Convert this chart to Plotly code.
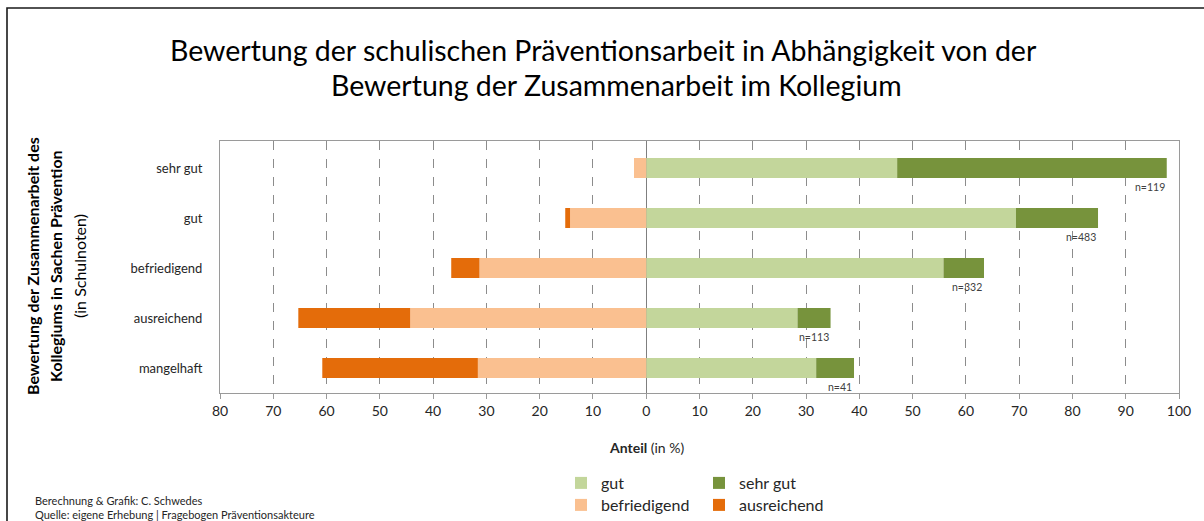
import plotly.graph_objects as go

# Bewertung der Zusammenarbeit im Kollegium (Schulnoten)
categories = ["sehr gut", "gut", "befriedigend", "ausreichend", "mangelhaft"]

# Anteile (in %) der Bewertung der Präventionsarbeit
gut = [47.1, 69.4, 55.8, 28.4, 31.9]
sehr_gut = [50.6, 15.4, 7.6, 6.2, 7.1]
befriedigend = [2.3, 14.3, 31.3, 44.3, 31.6]
ausreichend = [0.0, 0.9, 5.3, 21.0, 29.2]

n_labels = ["n=119", "n=483", "n=332", "n=113", "n=41"]

tick_vals = [-80, -70, -60, -50, -40, -30, -20, -10, 0, 10, 20, 30, 40, 50, 60, 70, 80, 90, 100]
tick_text = ["80", "70", "60", "50", "40", "30", "20", "10", "0", "10", "20", "30", "40", "50", "60", "70", "80", "90", "100"]

FONT = "Lato"
TXT = "#262626"
GRID = "#8c8c8c"

W, H = 1204, 521
ML, MR, MT, MB = 220, 25, 141, 128
PW, PH = W - ML - MR, H - MT - MB


def px_x(px):
    return (px - ML) / PW


def px_y(py):
    return (H - MB - py) / PH


fig = go.Figure()
fig.add_trace(go.Bar(y=categories, x=gut, name="gut", orientation="h",
                     marker=dict(color="#C3D69B", line=dict(width=0)), legend="legend"))
fig.add_trace(go.Bar(y=categories, x=sehr_gut, name="sehr gut", orientation="h",
                     marker=dict(color="#77933C", line=dict(width=0)), legend="legend"))
fig.add_trace(go.Bar(y=categories, x=[-v for v in befriedigend], name="befriedigend", orientation="h",
                     marker=dict(color="#FAC090", line=dict(width=0)), legend="legend2"))
fig.add_trace(go.Bar(y=categories, x=[-v for v in ausreichend], name="ausreichend", orientation="h",
                     marker=dict(color="#E46C0A", line=dict(width=0)), legend="legend2"))

annotations = []
# Stichprobengröße unter dem rechten Balkenende
for cat, g, s, lab in zip(categories, gut, sehr_gut, n_labels):
    annotations.append(dict(x=g + s, y=cat, xref="x", yref="y", text=lab, showarrow=False,
                            xanchor="right", yanchor="middle", yshift=-19,
                            font=dict(family=FONT, size=10.5, color="#404040")))

# Titel
annotations.append(dict(x=px_x(603), y=px_y(50), xref="paper", yref="paper",
                        text="Bewertung der schulischen Präventionsarbeit in Abhängigkeit von der",
                        showarrow=False, xanchor="center", yanchor="middle",
                        font=dict(family=FONT, size=28.5, color="#000000")))
annotations.append(dict(x=px_x(616), y=px_y(85), xref="paper", yref="paper",
                        text="Bewertung der Zusammenarbeit im Kollegium",
                        showarrow=False, xanchor="center", yanchor="middle",
                        font=dict(family=FONT, size=28.5, color="#000000")))

# Achsentitel (vertikal)
for xpx, txt, bold in [(32, "Bewertung der Zusammenarbeit des", True),
                       (55, "Kollegiums in Sachen Prävention", True),
                       (79, "(in Schulnoten)", False)]:
    annotations.append(dict(x=px_x(xpx), y=px_y(266), xref="paper", yref="paper",
                            text=f"<b>{txt}</b>" if bold else txt, textangle=-90,
                            showarrow=False, xanchor="center", yanchor="middle",
                            font=dict(family=FONT, size=16, color="#000000")))

# x-Achsentitel
annotations.append(dict(x=px_x(646), y=px_y(447), xref="paper", yref="paper",
                        text="<b>Anteil</b> (in %)", showarrow=False,
                        xanchor="center", yanchor="middle",
                        font=dict(family=FONT, size=14, color=TXT)))

# Quellenangabe
annotations.append(dict(x=px_x(33), y=px_y(500), xref="paper", yref="paper",
                        text="Berechnung & Grafik: C. Schwedes", showarrow=False,
                        xanchor="left", yanchor="middle",
                        font=dict(family=FONT, size=11, color=TXT)))
annotations.append(dict(x=px_x(33), y=px_y(514), xref="paper", yref="paper",
                        text="Quelle: eigene Erhebung | Fragebogen Präventionsakteure", showarrow=False,
                        xanchor="left", yanchor="middle",
                        font=dict(family=FONT, size=11, color=TXT)))

shapes = [
    # Rahmen um die Grafik
    dict(type="rect", xref="paper", yref="paper",
         x0=px_x(7), x1=px_x(1215), y0=px_y(535), y1=px_y(8),
         line=dict(color="#1a1a1a", width=1.6), fillcolor="rgba(0,0,0,0)", layer="above"),
]

legend_common = dict(orientation="h", xanchor="left", yanchor="middle",
                     font=dict(family=FONT, size=16, color=TXT),
                     entrywidth=93, entrywidthmode="pixels",
                     bgcolor="rgba(0,0,0,0)", traceorder="normal",
                     itemclick=False, itemdoubleclick=False)

fig.update_layout(
    width=W, height=H,
    margin=dict(l=ML, r=MR, t=MT, b=MB, autoexpand=False),
    barmode="relative",
    bargap=0.6,
    paper_bgcolor="white",
    plot_bgcolor="white",
    font=dict(family=FONT, size=14, color=TXT),
    showlegend=True,
    legend=dict(x=px_x(561), y=px_y(483), **legend_common),
    legend2=dict(x=px_x(561), y=px_y(505), **legend_common),
    xaxis=dict(range=[-80, 100], tickvals=tick_vals, ticktext=tick_text,
               showgrid=True, gridcolor=GRID, griddash="dash", gridwidth=1,
               zeroline=True, zerolinecolor="#7f7f7f", zerolinewidth=1.2,
               showline=True, linecolor="#9a9a9a", linewidth=1, mirror=True,
               ticks="outside", ticklen=5, tickcolor="#9a9a9a",
               tickfont=dict(family=FONT, size=14, color=TXT), fixedrange=True),
    yaxis=dict(categoryorder="array", categoryarray=categories, autorange="reversed",
               showgrid=False, zeroline=False,
               showline=True, linecolor="#9a9a9a", linewidth=1, mirror=True,
               ticks="", ticklabelstandoff=14,
               tickfont=dict(family=FONT, size=13, color=TXT), fixedrange=True),
    annotations=annotations,
    shapes=shapes,
)

fig.write_html("out.html")
